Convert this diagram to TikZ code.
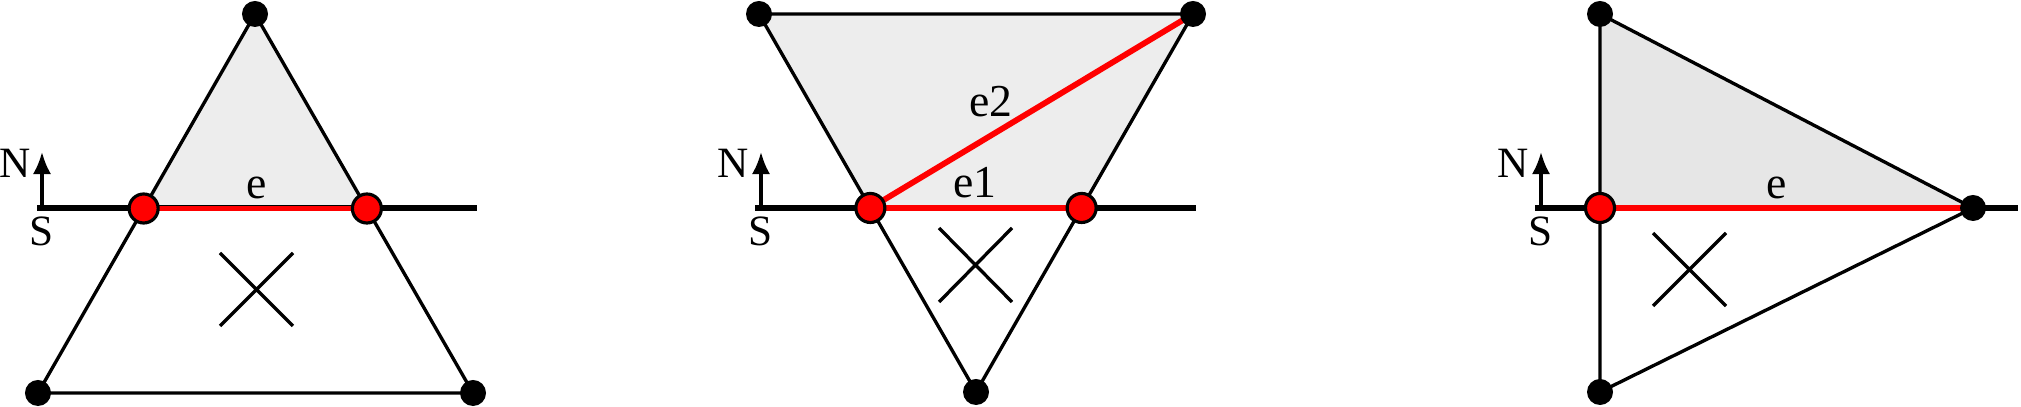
\documentclass[tikz,border=0pt]{standalone}
\usepackage{fontspec}
\setmainfont{Liberation Serif}
\usetikzlibrary{arrows.meta,calc,backgrounds}
\definecolor{cellgray}{HTML}{EDEDED}
\definecolor{cellgraydark}{HTML}{E6E6E6}

\begin{document}
\begin{tikzpicture}[x=0.01cm, y=-0.01cm,
  vtx/.style={circle,fill=black,inner sep=0pt,minimum size=0.26cm},
  cutpt/.style={circle,fill=red,draw=black,line width=0.9pt,inner sep=0pt,minimum size=0.29cm},
  edge/.style={line width=0.95pt},
  face/.style={line width=1.9pt},
  redge/.style={red,line width=1.65pt},
  normal/.style={line width=0.95pt,-{Latex[length=6.3pt,width=5.2pt]}},
  lbl/.style={font=\fontsize{13}{15}\selectfont,anchor=base,inner sep=0pt},
  side/.style={font=\fontsize{12.3}{14}\selectfont,anchor=base,inner sep=0pt}]
  \useasboundingbox (0,0) rectangle (2021,407);

  % left: one edge cut
  \node[vtx] (a1) at (255,14) {};
  \node[vtx] (b1) at (38,393) {};
  \node[vtx] (c1) at (473,393) {};
  \node[cutpt] (p1) at ($(a1.center)!0.5132!(b1.center)$) {};
  \node[cutpt] (q1) at ($(a1.center)!0.5132!(c1.center)$) {};
  \coordinate (w1) at (37,208);
  \coordinate (z1) at (477,208);
  \coordinate (n1) at (42,152);
  \node[side] (N1) at (15,178) {N};
  \node[side] (S1) at (42,246) {S};
  \node[lbl] (e1) at (257,199) {e};
  \begin{scope}[on background layer]
    \fill[cellgray] (a1.center) -- (p1.center) -- (q1.center) -- cycle;
    \draw[edge] (a1.center) -- (b1.center) -- (c1.center) -- cycle;
    \draw[face] (w1) -- (z1);
    \draw[redge] (p1.center) -- (q1.center);
    \draw[normal] (w1 -| n1) -- (n1);
    \draw[edge] (220,253) -- (293,326) (293,253) -- (220,326);
  \end{scope}

  % middle: two edges cut
  \node[vtx] (a2) at (759,14) {};
  \node[vtx] (b2) at (1193,14) {};
  \node[vtx] (c2) at (976,392) {};
  \node[cutpt] (p2) at ($(a2.center)!0.5132!(c2.center)$) {};
  \node[cutpt] (q2) at ($(b2.center)!0.5132!(c2.center)$) {};
  \coordinate (w2) at (755,208);
  \coordinate (z2) at (1196,208);
  \coordinate (n2) at (761,152);
  \node[side] (N2) at (733,178) {N};
  \node[side] (S2) at (761,246) {S};
  \node[lbl] (e21) at (975,198) {e1};
  \node[lbl] (e22) at (991,117) {e2};
  \begin{scope}[on background layer]
    \fill[cellgray] (a2.center) -- (b2.center) -- (q2.center) -- (p2.center) -- cycle;
    \draw[edge] (a2.center) -- (b2.center) -- (c2.center) -- cycle;
    \draw[face] (w2) -- (z2);
    \draw[redge] (p2.center) -- (q2.center);
    \draw[redge] (p2.center) -- (b2.center);
    \draw[normal] (w2 -| n2) -- (n2);
    \draw[edge] (939,228) -- (1012,302) (1012,228) -- (939,302);
  \end{scope}

  % right: vertex on the face
  \node[vtx] (a3) at (1600,14) {};
  \node[vtx] (b3) at (1600,392) {};
  \node[vtx] (c3) at (1973,208) {};
  \node[cutpt] (p3) at (1600,208) {};
  \coordinate (w3) at (1535,208);
  \coordinate (z3) at (2018,208);
  \coordinate (n3) at (1541,152);
  \node[side] (N3) at (1513,178) {N};
  \node[side] (S3) at (1541,246) {S};
  \node[lbl] (e3) at (1777,199) {e};
  \begin{scope}[on background layer]
    \fill[cellgraydark] (a3.center) -- (p3.center) -- (c3.center) -- cycle;
    \draw[edge] (a3.center) -- (b3.center) -- (c3.center) -- cycle;
    \draw[face] (w3) -- (z3);
    \draw[redge] (p3.center) -- (c3.center);
    \draw[normal] (w3 -| n3) -- (n3);
    \draw[edge] (1653,233) -- (1726,306) (1726,233) -- (1653,306);
  \end{scope}
\end{tikzpicture}
\end{document}
